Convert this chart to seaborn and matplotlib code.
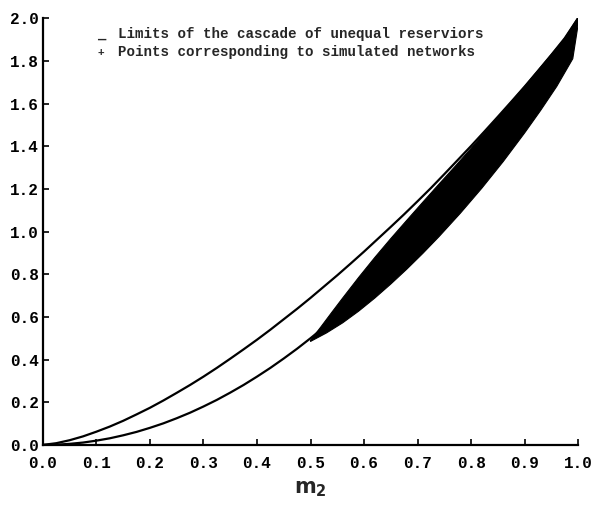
import numpy as np
import pandas as pd
import matplotlib
matplotlib.use('Agg')
import matplotlib.pyplot as plt
import seaborn as sns

# values
m2 = [0.0, 0.025, 0.05, 0.075, 0.1, 0.125, 0.15, 0.175, 0.2, 0.225, 0.25,
      0.275, 0.3, 0.325, 0.35, 0.375, 0.4, 0.425, 0.45, 0.475, 0.5,
      0.525, 0.55, 0.575, 0.6, 0.625, 0.65, 0.675, 0.7, 0.725, 0.75,
      0.775, 0.8, 0.825, 0.85, 0.875, 0.9, 0.925, 0.95, 0.975, 1.0]
upper_limit = [0.0, 0.008, 0.022, 0.040, 0.062, 0.086, 0.113, 0.143, 0.174, 0.208, 0.244,
               0.281, 0.320, 0.361, 0.404, 0.448, 0.493, 0.540, 0.589, 0.638, 0.689,
               0.742, 0.795, 0.850, 0.906, 0.964, 1.022, 1.081, 1.142, 1.204, 1.269,
               1.335, 1.401, 1.469, 1.538, 1.608, 1.679, 1.753, 1.828, 1.906, 2.0]
lower_limit = [0.0, 0.001, 0.005, 0.011, 0.020, 0.031, 0.045, 0.061, 0.080, 0.101, 0.125,
               0.151, 0.180, 0.211, 0.245, 0.281, 0.320, 0.361, 0.405, 0.451, 0.500,
               0.551, 0.605, 0.661, 0.720, 0.781, 0.845, 0.911, 0.980, 1.051, 1.125,
               1.201, 1.280, 1.361, 1.445, 1.531, 1.620, 1.711, 1.805, 1.901, 2.0]

# outline of the cloud of simulated networks
cloud_upper_x = [0.50, 0.52, 0.54, 0.56, 0.59, 0.62, 0.65, 0.68, 0.71, 0.74, 0.77,
                 0.80, 0.85, 0.90, 0.95, 0.98, 1.0]
cloud_upper_y = [0.49, 0.555, 0.622, 0.688, 0.785, 0.878, 0.967, 1.053, 1.138, 1.222, 1.305,
                 1.39, 1.535, 1.68, 1.83, 1.92, 1.99]
cloud_lower_x = [0.50, 0.53, 0.56, 0.59, 0.62, 0.65, 0.68, 0.71, 0.74, 0.78, 0.82,
                 0.86, 0.90, 0.93, 0.96, 0.99, 1.0]
cloud_lower_y = [0.485, 0.525, 0.572, 0.627, 0.688, 0.754, 0.824, 0.898, 0.976, 1.086, 1.203,
                 1.328, 1.462, 1.568, 1.68, 1.81, 1.97]

x_ticks = [0.0, 0.1, 0.2, 0.3, 0.4, 0.5, 0.6, 0.7, 0.8, 0.9, 1.0]
y_ticks = [0.0, 0.2, 0.4, 0.6, 0.8, 1.0, 1.2, 1.4, 1.6, 1.8, 2.0]

legend_lines = ["Limits of the cascade of unequal reserviors",
                "Points corresponding to simulated networks"]

sns.set_theme(style="ticks")
plt.rcParams['font.family'] = ['Liberation Mono', 'DejaVu Sans Mono']

fig = plt.figure(figsize=(5.96, 5.05), dpi=100)
ax = fig.add_axes([0.072, 0.119, 0.898, 0.845])

df = pd.DataFrame({'m2': m2 + m2,
                   'm3': upper_limit + lower_limit,
                   'curve': ['upper'] * len(m2) + ['lower'] * len(m2)})
sns.lineplot(data=df, x='m2', y='m3', units='curve', estimator=None,
             color='black', linewidth=1.6, ax=ax, legend=False)

cx = cloud_upper_x + cloud_lower_x[::-1]
cy = cloud_upper_y + cloud_lower_y[::-1]
ax.fill(cx, cy, color='black', linewidth=0.8, edgecolor='black')

ax.set_xlim(0, 1.0)
ax.set_ylim(0, 2.0)
ax.set_xticks(x_ticks)
ax.set_yticks(y_ticks)
ax.set_xticklabels([f"{v:.1f}" for v in x_ticks], fontsize=11.5, fontweight='bold')
ax.set_yticklabels([f"{v:.1f}" for v in y_ticks], fontsize=11.5, fontweight='bold')
ax.tick_params(direction='in', length=4, width=1.2, colors='black', pad=3)
ax.tick_params(axis='x', pad=8)
for s in ['top', 'right']:
    ax.spines[s].set_visible(False)
for s in ['left', 'bottom']:
    ax.spines[s].set_linewidth(1.6)
    ax.spines[s].set_color('black')

ax.set_xlabel(r"$\mathbf{m_2}$", fontsize=15, family='DejaVu Serif', labelpad=6)
ax.set_ylabel("")

# legend drawn as text, like the original
ax.text(0.102, 1.925, "_", fontsize=10, fontweight='bold', va='center', ha='left')
ax.text(0.140, 1.925, legend_lines[0], fontsize=10.2, fontweight='bold', va='center', ha='left')
ax.text(0.102, 1.835, "+", fontsize=8, fontweight='bold', va='center', ha='left')
ax.text(0.140, 1.84, legend_lines[1], fontsize=10.2, fontweight='bold', va='center', ha='left')

fig.savefig('out.png', dpi=100, facecolor='white')
